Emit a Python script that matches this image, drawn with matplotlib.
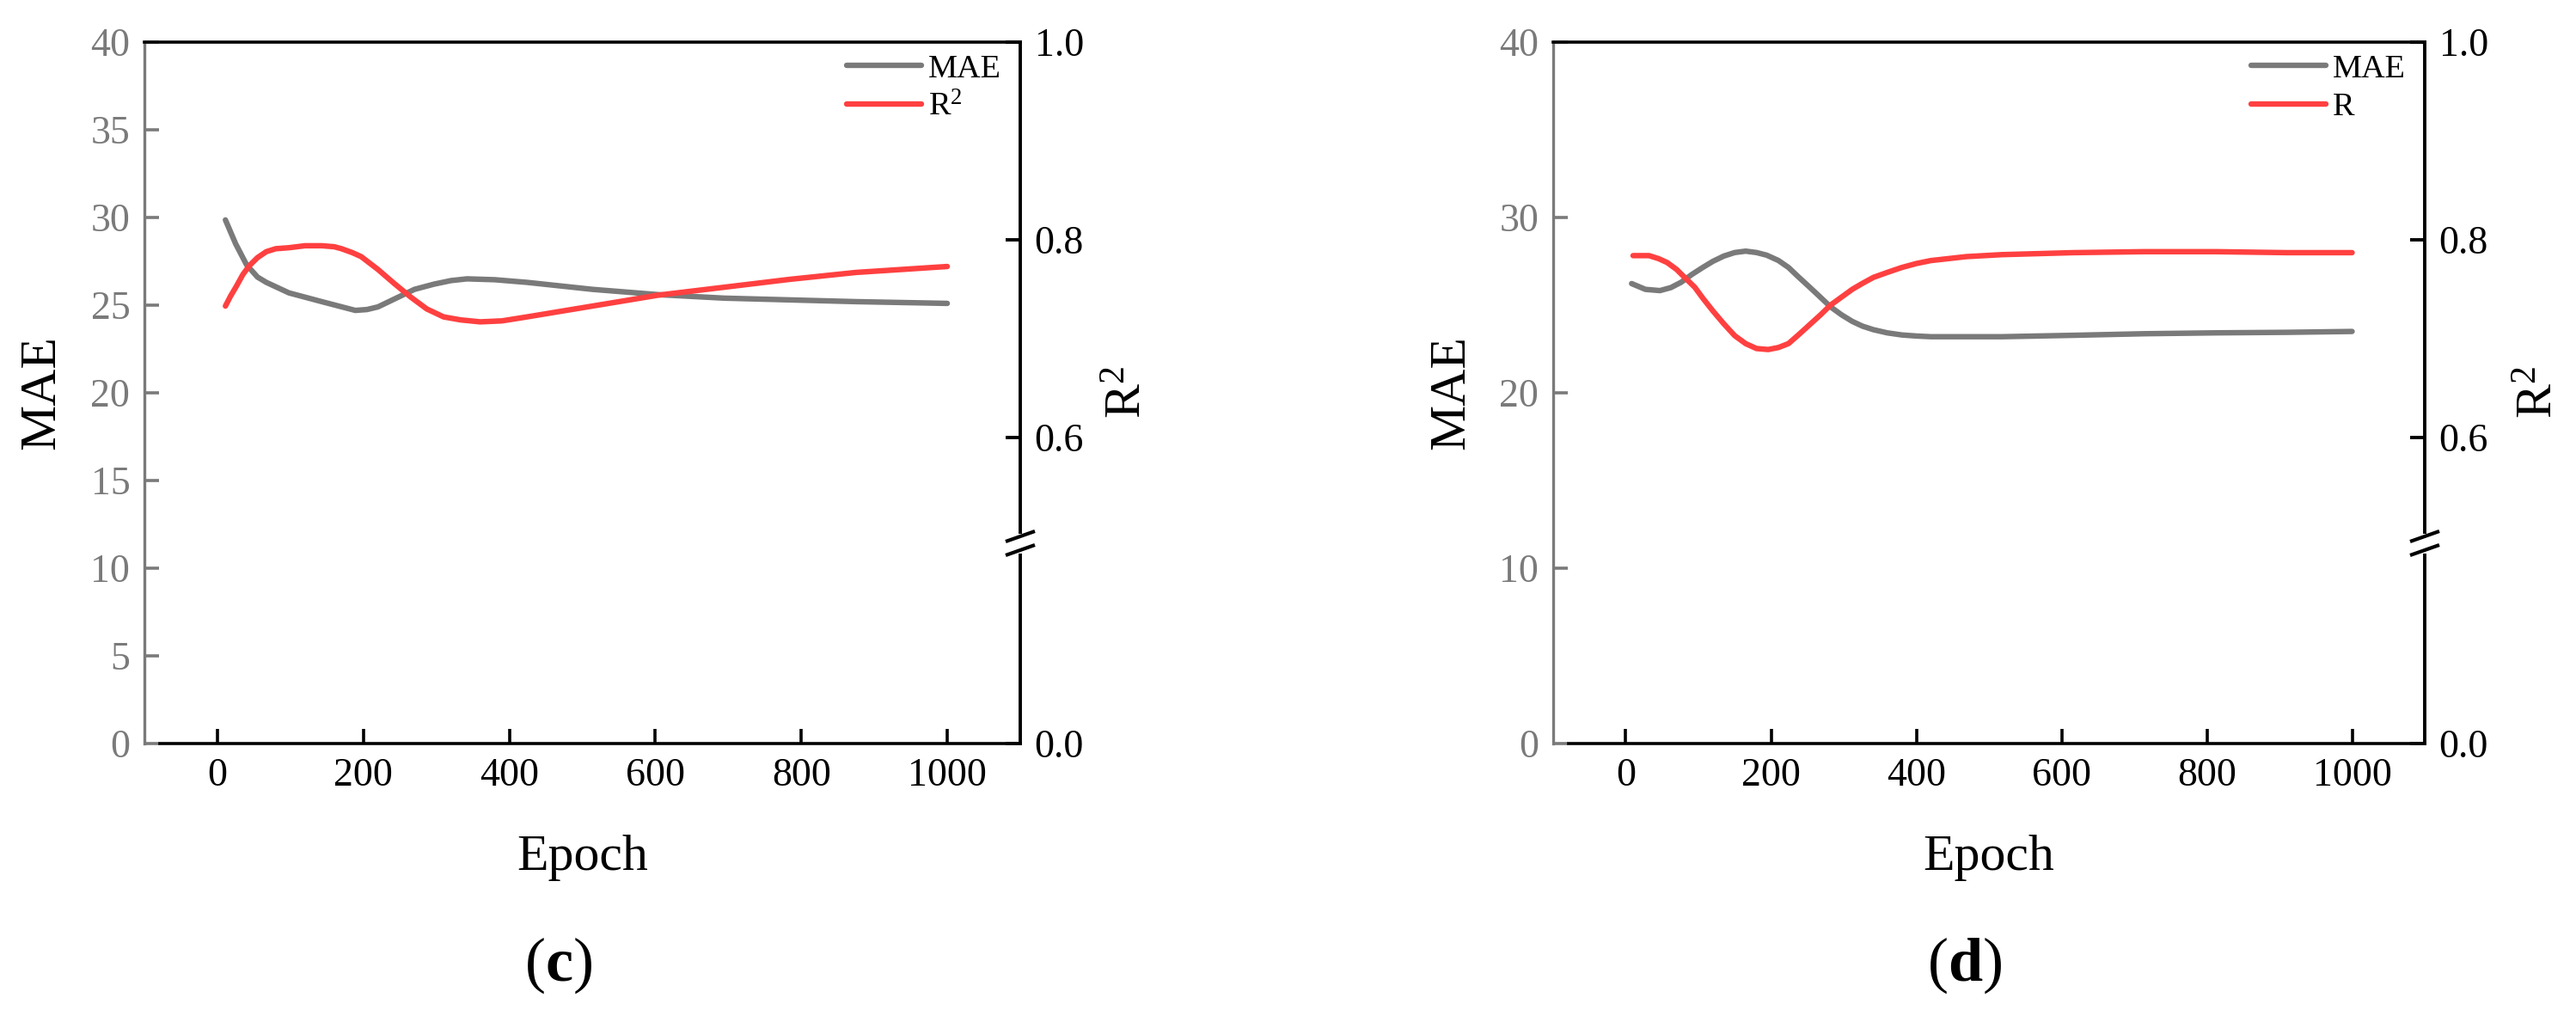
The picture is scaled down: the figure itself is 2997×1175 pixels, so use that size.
import matplotlib
matplotlib.use('Agg')
import matplotlib.pyplot as plt
from matplotlib.lines import Line2D

plt.rcParams['font.family'] = ['Liberation Serif', 'DejaVu Serif']
plt.rcParams['mathtext.fontset'] = 'custom'
plt.rcParams['mathtext.rm'] = 'Liberation Serif'
plt.rcParams['mathtext.it'] = 'Liberation Serif:italic'
plt.rcParams['mathtext.bf'] = 'Liberation Serif:bold'

# ---------------- data ----------------
# panel (c)
epoch_c_mae = [11, 25, 40, 55, 67, 98, 143, 189, 205, 220, 245, 270, 297, 320, 342, 380, 424, 514, 604, 694, 784, 875, 1000]
mae_c = [29.86, 28.5, 27.3, 26.6, 26.3, 25.7, 25.2, 24.7, 24.75, 24.9, 25.4, 25.9, 26.2, 26.4, 26.5, 26.45, 26.3, 25.9, 25.6, 25.4, 25.3, 25.2, 25.1]
epoch_c_r2 = [11, 18, 26, 35, 44, 55, 67, 80, 98, 120, 143, 160, 170, 185, 197, 220, 242, 265, 287, 310, 333, 360, 390, 424, 514, 604, 694, 784, 875, 1000]
r2_c = [0.733, 0.743, 0.753, 0.765, 0.774, 0.782, 0.788, 0.791, 0.792, 0.794, 0.794, 0.793, 0.791, 0.787, 0.783, 0.770, 0.756, 0.742, 0.730, 0.722, 0.719, 0.717, 0.718, 0.722, 0.733, 0.744, 0.752, 0.760, 0.767, 0.773]

# panel (d)
epoch_d_mae = [8, 27, 47, 62, 76, 91, 106, 120, 135, 150, 165, 180, 194, 210, 224, 238, 253, 268, 282, 297, 312, 326, 341, 360, 380, 400, 420, 518, 616, 714, 812, 910, 1000]
mae_d = [26.23, 25.9, 25.83, 26.0, 26.3, 26.75, 27.15, 27.5, 27.8, 28.0, 28.08, 28.0, 27.85, 27.55, 27.15, 26.6, 26.03, 25.45, 24.9, 24.45, 24.07, 23.8, 23.6, 23.42, 23.3, 23.24, 23.2, 23.2, 23.28, 23.37, 23.42, 23.45, 23.5]
epoch_d_r = [10, 32, 45, 57, 70, 81, 95, 106, 120, 135, 150, 165, 180, 196, 210, 224, 238, 253, 268, 282, 297, 312, 326, 341, 360, 380, 400, 420, 469, 518, 616, 714, 812, 910, 1000]
r_d = [0.784, 0.784, 0.781, 0.777, 0.770, 0.762, 0.752, 0.741, 0.728, 0.715, 0.703, 0.695, 0.690, 0.689, 0.691, 0.695, 0.704, 0.714, 0.724, 0.734, 0.742, 0.750, 0.756, 0.762, 0.767, 0.772, 0.776, 0.779, 0.783, 0.785, 0.787, 0.788, 0.788, 0.787, 0.787]

x_ticks = [0, 200, 400, 600, 800, 1000]
mae_ticks_c = [0, 5, 10, 15, 20, 25, 30, 35, 40]
mae_ticks_d = [0, 10, 20, 30, 40]
r_axis_bottom = 0.2904   # value at the bottom of the broken right axis (shown as 0.0)
r_ticks = [r_axis_bottom, 0.6, 0.8, 1.0]
r_tick_labels = ['0.0', '0.6', '0.8', '1.0']
panel_letters = ['c', 'd']
legend_r_labels = ['R$^2$', 'R']

# ---------------- style ----------------
GRAY = '#7a7a7a'
RED = '#ff4040'
W, H = 2997, 1175
fig = plt.figure(figsize=(W / 100, H / 100), dpi=100)

panels = [
    dict(left=168, right=1187, ex_m=epoch_c_mae, m=mae_c, ex_r=epoch_c_r2, r=r2_c,
         mticks=mae_ticks_c, rlab_x=1.1236),
    dict(left=1807, right=2821, ex_m=epoch_d_mae, m=mae_d, ex_r=epoch_d_r, r=r_d,
         mticks=mae_ticks_d, rlab_x=1.132),
]
top_px, bot_px = 49, 865

for i, p in enumerate(panels):
    l = p['left'] / W
    w = (p['right'] - p['left']) / W
    b = 1 - bot_px / H
    h = (bot_px - top_px) / H
    ax = fig.add_axes([l, b, w, h])
    ax2 = ax.twinx()

    line_m, = ax.plot(p['ex_m'], p['m'], color=GRAY, lw=4.6, solid_capstyle='round',
                      solid_joinstyle='round', label='MAE', zorder=3)
    line_r, = ax2.plot(p['ex_r'], p['r'], color=RED, lw=4.6, solid_capstyle='round',
                       solid_joinstyle='round', label=legend_r_labels[i], zorder=3)

    ax.set_xlim(-100, 1100)
    ax.set_ylim(0, 40)
    ax2.set_ylim(r_axis_bottom, 1.0)

    ax.set_xticks(x_ticks)
    ax.set_yticks(p['mticks'])
    ax.set_yticklabels([str(v) for v in p['mticks']])
    ax2.set_yticks(r_ticks)
    ax2.set_yticklabels(r_tick_labels)

    # spines
    for s in ['top', 'bottom']:
        ax.spines[s].set_color('black')
        ax.spines[s].set_linewidth(2.6)
    ax.spines['left'].set_color(GRAY)
    ax.spines['left'].set_linewidth(2.4)
    ax.spines['right'].set_visible(False)
    ax.spines['bottom'].set_bounds(-100 + 18 / (0.848), 1100)
    for s in ['left', 'top', 'bottom']:
        ax2.spines[s].set_visible(False)
    ax2.spines['right'].set_color('black')
    ax2.spines['right'].set_linewidth(2.8)

    ax.tick_params(axis='x', direction='in', length=12, width=2.6, colors='black',
                   labelsize=33, pad=12)
    ax.tick_params(axis='y', direction='in', length=12, width=2.6, color=GRAY,
                   labelcolor=GRAY, labelsize=33, pad=12)
    ax2.tick_params(axis='y', direction='in', length=12, width=2.8, color='black',
                    labelcolor='black', labelsize=33, pad=12)

    ax.set_xlabel('Epoch', fontsize=43, va='center')
    ax.xaxis.set_label_coords(0.5, (bot_px - 998) / (bot_px - top_px))
    ax.set_ylabel('MAE', fontsize=43, va='center')
    ax.yaxis.set_label_coords(-0.1165, 0.5)
    ax2.set_ylabel('R$^2$', fontsize=43, va='center', rotation=90)
    ax2.yaxis.set_label_coords(p['rlab_x'], 0.5)

    # axis break marks on the right spine
    yc1 = (bot_px - 624) / (bot_px - top_px)
    yc2 = (bot_px - 640) / (bot_px - top_px)
    dx = 17 / (p['right'] - p['left'])
    dy = 6 / (bot_px - top_px)
    ax2.add_line(Line2D([1, 1], [yc2, yc1], transform=ax2.transAxes, color='white',
                        lw=5, clip_on=False, zorder=10))
    for yc in (yc1, yc2):
        ax2.add_line(Line2D([1 - dx, 1 + dx], [yc - dy, yc + dy], transform=ax2.transAxes,
                            color='black', lw=3, clip_on=False, zorder=11,
                            solid_capstyle='butt'))

    leg = ax2.legend([line_m, line_r], ['MAE', legend_r_labels[i]], loc='upper right',
                     bbox_to_anchor=(1 - 22 / (p['right'] - p['left']), 1 - 14 / (bot_px - top_px)),
                     frameon=False, fontsize=27.5, handlelength=2.3, handletextpad=0.2,
                     labelspacing=0.25, borderpad=0, borderaxespad=0)
    for lh in leg.get_lines():
        lh.set_linewidth(4.6)

    cx = ((p['left'] + p['right']) / 2 - 28) / W
    fig.text(cx, 1 - 1123 / H, r'$(\mathbf{' + panel_letters[i] + r'})$', fontsize=52,
             ha='center', va='center')

fig.savefig('out.png', dpi=100)
